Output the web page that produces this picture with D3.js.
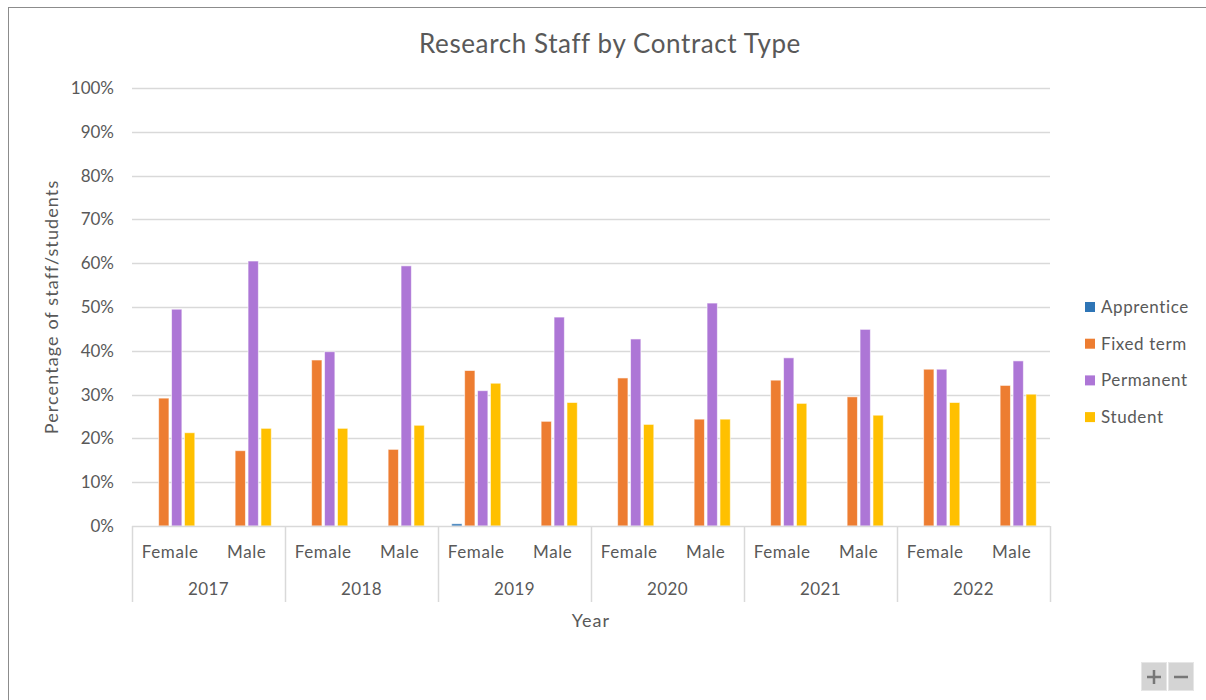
<!DOCTYPE html>
<html>
<head>
<meta charset="utf-8">
<script src="https://cdn.jsdelivr.net/npm/d3@7"></script>
<style>
	body { margin: 0; background: #fff; font-family: Lato, "Open Sans", sans-serif; }
	#chart { position: relative; width: 1206px; height: 700px; overflow: hidden; }
</style>
</head>
<body>
<div id="chart"></div>
<script>
var years = ['2017', '2018', '2019', '2020', '2021', '2022'];
var genders = ['Female', 'Male'];
var seriesNames = ['Apprentice', 'Fixed term', 'Permanent', 'Student'];
var yTicks = [0, 10, 20, 30, 40, 50, 60, 70, 80, 90, 100];

// one value per year/gender pair, in order 2017 F, 2017 M, 2018 F ...
var apprentice = [0, 0, 0, 0, 0.5, 0, 0, 0, 0, 0, 0, 0];
var fixedTerm  = [29.2, 17.2, 37.9, 17.5, 35.5, 23.9, 33.8, 24.4, 33.3, 29.5, 35.8, 32.1];
var permanent  = [49.5, 60.5, 39.8, 59.4, 30.9, 47.7, 42.7, 50.9, 38.4, 44.9, 35.8, 37.7];
var student    = [21.3, 22.3, 22.3, 23.0, 32.6, 28.2, 23.2, 24.4, 28.0, 25.3, 28.2, 30.1];

var colors = ['#2e75b6', '#ed7d31', '#ad76d6', '#ffc000'];

drawChart();

function drawChart()
{
	var width = 1206;
	var height = 700;
	var left = 132, right = 1050, top = 88, bottom = 526;
	var textColor = '#595959';
	var gridColor = '#d9d9d9';

	var categories = [];
	years.forEach(function(y) {
		genders.forEach(function(g) { categories.push(y + '|' + g); });
	});

	var allSeries = [apprentice, fixedTerm, permanent, student];
	var table = categories.map(function(c, i) {
		return { key: c, values: allSeries.map(function(s, j) { return { name: seriesNames[j], value: s[i], idx: j }; }) };
	});

	var svg = d3.select('#chart')
		.append('svg')
		.attr('width', width)
		.attr('height', height);

	// outer chart border
	svg.append('rect')
		.attr('x', 8.5).attr('y', 7.5)
		.attr('width', 1400).attr('height', 900)
		.attr('fill', 'none')
		.attr('stroke', '#8c8c8c');

	var x0 = d3.scaleBand()
		.domain(categories)
		.range([left, right])
		.paddingInner(0.29)
		.paddingOuter(0.145);

	var catScale = d3.scaleBand().domain(categories).range([left, right]);

	var x1 = d3.scaleBand()
		.domain(seriesNames)
		.range([0, x0.bandwidth()])
		.padding(0.2);

	var y = d3.scaleLinear().domain([0, 100]).range([bottom, top]);

	// gridlines
	svg.append('g')
		.selectAll('line')
		.data(yTicks.slice(1))
		.enter()
		.append('line')
		.attr('x1', left).attr('x2', right)
		.attr('y1', function(d) { return Math.round(y(d)) + 0.5; })
		.attr('y2', function(d) { return Math.round(y(d)) + 0.5; })
		.attr('stroke', gridColor)
		.attr('stroke-width', 1.5);

	// y tick labels
	svg.append('g')
		.selectAll('text')
		.data(yTicks)
		.enter()
		.append('text')
		.attr('x', 114)
		.attr('y', function(d) { return y(d) + 6; })
		.attr('text-anchor', 'end')
		.attr('font-size', 17)
		.attr('fill', textColor)
		.text(function(d) { return d + '%'; });

	// bars
	var groups = svg.append('g')
		.selectAll('g')
		.data(table)
		.enter()
		.append('g')
		.attr('transform', function(d) { return 'translate(' + x0(d.key) + ',0)'; });

	groups.selectAll('rect')
		.data(function(d) { return d.values.filter(function(v) { return v.value > 0; }); })
		.enter()
		.append('rect')
		.attr('x', function(d) { return x1(d.name); })
		.attr('width', x1.bandwidth())
		.attr('y', function(d) { return y(d.value); })
		.attr('height', function(d) { return bottom - y(d.value); })
		.attr('fill', function(d) { return colors[d.idx]; })
		.attr('stroke', '#fff')
		.attr('stroke-opacity', 0.6)
		.attr('stroke-width', 1);

	// x axis baseline and year separators
	svg.append('line')
		.attr('x1', left).attr('x2', right)
		.attr('y1', bottom + 0.5).attr('y2', bottom + 0.5)
		.attr('stroke', gridColor)
		.attr('stroke-width', 1.5);

	var yearStep = (right - left) / years.length;
	var seps = d3.range(years.length + 1).map(function(i) { return left + i * yearStep; });
	svg.append('g')
		.selectAll('line')
		.data(seps)
		.enter()
		.append('line')
		.attr('x1', function(d) { return Math.round(d) + 0.5; })
		.attr('x2', function(d) { return Math.round(d) + 0.5; })
		.attr('y1', bottom).attr('y2', 602)
		.attr('stroke', gridColor)
		.attr('stroke-width', 1.5);

	// category labels
	svg.append('g')
		.selectAll('text')
		.data(categories)
		.enter()
		.append('text')
		.attr('x', function(d) { return catScale(d) + catScale.bandwidth() / 2; })
		.attr('y', 558)
		.attr('text-anchor', 'middle')
		.attr('font-size', 17)
		.attr('letter-spacing', 0.6)
		.attr('fill', textColor)
		.text(function(d) { return d.split('|')[1]; });

	svg.append('g')
		.selectAll('text')
		.data(years)
		.enter()
		.append('text')
		.attr('x', function(d, i) { return left + (i + 0.5) * yearStep; })
		.attr('y', 595)
		.attr('text-anchor', 'middle')
		.attr('font-size', 17)
		.attr('letter-spacing', 0.4)
		.attr('fill', textColor)
		.text(function(d) { return d; });

	// titles
	svg.append('text')
		.attr('x', 610).attr('y', 53)
		.attr('text-anchor', 'middle')
		.attr('font-size', 26)
		.attr('letter-spacing', 0.6)
		.attr('fill', textColor)
		.text('Research Staff by Contract Type');

	svg.append('text')
		.attr('x', 591).attr('y', 627)
		.attr('text-anchor', 'middle')
		.attr('font-size', 18)
		.attr('letter-spacing', 1)
		.attr('fill', textColor)
		.text('Year');

	svg.append('text')
		.attr('transform', 'translate(58,307) rotate(-90)')
		.attr('text-anchor', 'middle')
		.attr('font-size', 18)
		.attr('letter-spacing', 1.1)
		.attr('fill', textColor)
		.text('Percentage of staff/students');

	// legend
	var legend = svg.selectAll('.legend')
		.data(seriesNames)
		.enter()
		.append('g')
		.attr('class', 'legend')
		.attr('transform', function(d, i) { return 'translate(1085,' + (307 + i * 36.7) + ')'; });

	legend.append('rect')
		.attr('x', 0).attr('y', -5)
		.attr('width', 10).attr('height', 10)
		.attr('fill', function(d, i) { return colors[i]; });

	legend.append('text')
		.attr('x', 16).attr('y', 6)
		.attr('font-size', 17)
		.attr('letter-spacing', 0.6)
		.attr('fill', textColor)
		.text(function(d) { return d; });

	// zoom buttons
	var btn = svg.append('g');
	btn.append('rect').attr('x', 1141.5).attr('y', 662.5).attr('width', 25).attr('height', 28)
		.attr('fill', '#d4d4d4').attr('stroke', '#e6e6e6');
	btn.append('rect').attr('x', 1168.5).attr('y', 662.5).attr('width', 25).attr('height', 28)
		.attr('fill', '#d4d4d4').attr('stroke', '#e6e6e6');
	var marks = btn.append('g').attr('stroke', '#777').attr('stroke-width', 2.5);
	marks.append('line').attr('x1', 1147).attr('x2', 1161).attr('y1', 677).attr('y2', 677);
	marks.append('line').attr('x1', 1154).attr('x2', 1154).attr('y1', 670).attr('y2', 684);
	marks.append('line').attr('x1', 1174).attr('x2', 1188).attr('y1', 677).attr('y2', 677);
}
</script>
</body>
</html>
